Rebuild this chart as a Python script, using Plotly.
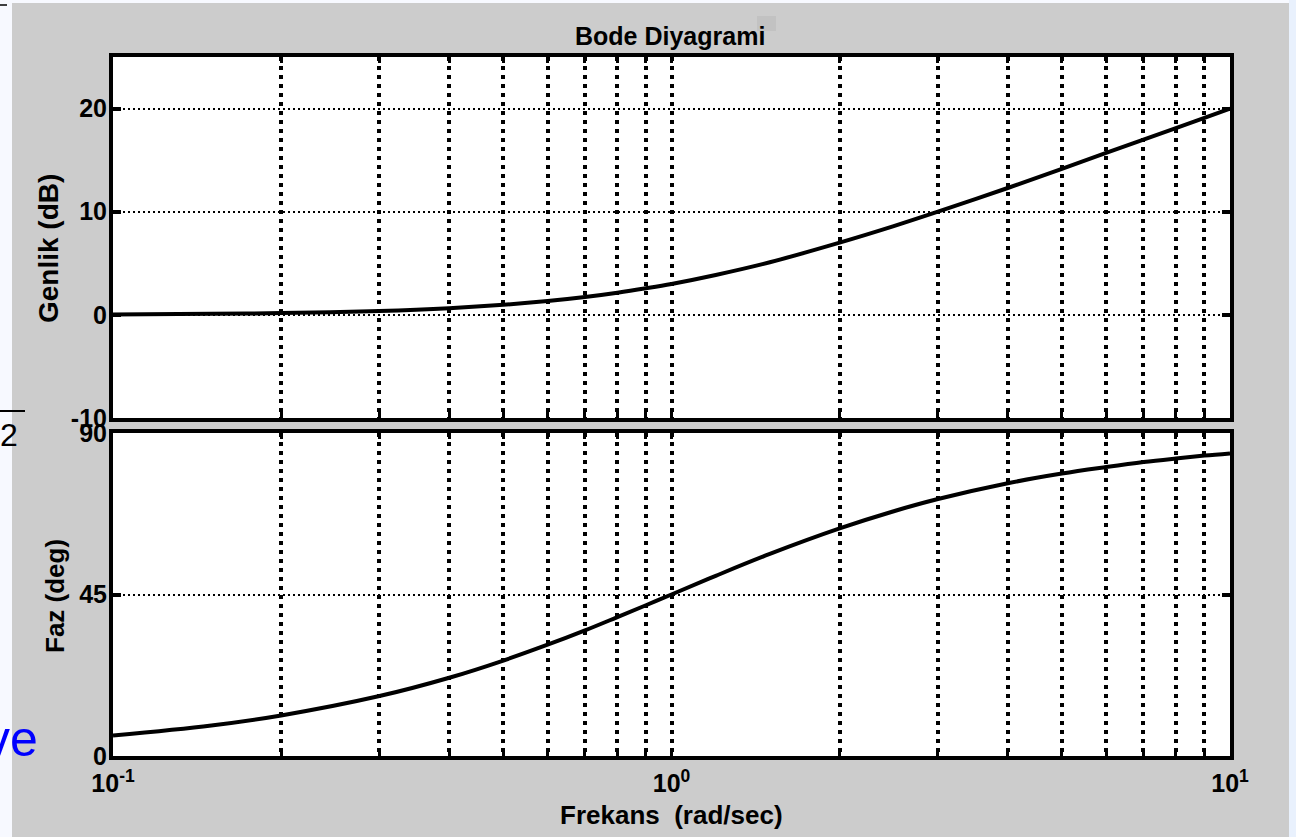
import plotly.graph_objects as go
from plotly.subplots import make_subplots

# ---- data ----
freq = [0.1, 0.15, 0.2, 0.3, 0.4, 0.5, 0.6, 0.7, 0.8, 0.9, 1.0, 1.2, 1.5,
        2.0, 2.5, 3.0, 4.0, 5.0, 6.0, 7.0, 8.0, 9.0, 10.0]
mag_db = [0.04, 0.1, 0.17, 0.37, 0.64, 0.97, 1.34, 1.73, 2.15, 2.58, 3.0, 3.87, 5.1,
          7.0, 8.6, 10.0, 12.3, 14.15, 15.7, 17.0, 18.1, 19.1, 20.0]
phase_deg = [5.7, 8.5, 11.3, 16.7, 21.8, 26.6, 31.0, 35.0, 38.7, 42.0, 45.0, 50.2, 56.3,
             63.4, 68.2, 71.6, 76.0, 78.7, 80.5, 81.9, 82.9, 83.7, 84.3]

grid_freqs = [0.1, 0.2, 0.3, 0.4, 0.5, 0.6, 0.7, 0.8, 0.9,
              1, 2, 3, 4, 5, 6, 7, 8, 9, 10]
grid_text = ["10<sup>-1</sup>", "", "", "", "", "", "", "", "",
             "10<sup>0</sup>", "", "", "", "", "", "", "", "", "10<sup>1</sup>"]
mag_ticks = [-10, 0, 10, 20]
mag_tick_text = ["-10", "0", "10", "20"]
phase_ticks = [0, 45, 90]
phase_tick_text = ["0", "45", "90"]

title_text = "Bode Diyagrami"
mag_label = "Genlik (dB)"
phase_label = "Faz (deg)"
x_label = "Frekans  (rad/sec)"

W, H = 1296, 837
FONT = "Liberation Sans, Arial, sans-serif"


def px(x):
    return x / W


def py(y):
    return 1 - y / H


fig = make_subplots(rows=2, cols=1, shared_xaxes=False)

fig.add_trace(go.Scatter(x=freq, y=mag_db, mode="lines", line=dict(color="black", width=4, shape="spline"),
                         showlegend=False, hoverinfo="skip"), row=1, col=1)
fig.add_trace(go.Scatter(x=freq, y=phase_deg, mode="lines", line=dict(color="black", width=4, shape="spline"),
                         showlegend=False, hoverinfo="skip"), row=2, col=1)

xdom = [px(113), px(1230)]
common_x = dict(type="log", range=[-1, 1], domain=xdom, tickvals=grid_freqs, ticktext=grid_text,
                showgrid=True, gridcolor="black", gridwidth=4, griddash="4px,5px",
                showline=True, linecolor="black", linewidth=4, mirror="ticks",
                ticks="inside", ticklen=6, tickwidth=3, tickcolor="black",
                zeroline=False, automargin=False,
                tickfont=dict(family=FONT, size=25, color="black", weight="bold"))
fig.update_xaxes(**common_x)
fig.update_xaxes(showticklabels=False, row=1, col=1)
fig.update_xaxes(ticklabelstandoff=2, row=2, col=1)

common_y = dict(showgrid=True, gridcolor="black", gridwidth=2, griddash="2px,3px",
                showline=True, linecolor="black", linewidth=4, mirror="ticks",
                ticks="inside", ticklen=8, tickwidth=4, tickcolor="black",
                zeroline=False, ticklabelstandoff=-3, automargin=False,
                tickfont=dict(family=FONT, size=25, color="black", weight="bold"))
fig.update_yaxes(**common_y)
fig.update_yaxes(range=[-10, 25], tickvals=mag_ticks, ticktext=mag_tick_text,
                 domain=[py(418), py(57)], row=1, col=1)
fig.update_yaxes(range=[0, 90], tickvals=phase_ticks, ticktext=phase_tick_text,
                 domain=[py(756), py(433)], row=2, col=1)

shapes = [
    # slide gray panel
    dict(type="rect", xref="paper", yref="paper", x0=px(12), x1=px(1289), y0=0, y1=py(3),
         fillcolor="#cccccc", line=dict(width=0), layer="below"),
    # right light-blue strip
    dict(type="rect", xref="paper", yref="paper", x0=px(1289), x1=1, y0=0, y1=1,
         fillcolor="#e9f1fd", line=dict(width=0), layer="below"),
    # white plot boxes
    dict(type="rect", xref="paper", yref="paper", x0=xdom[0], x1=xdom[1], y0=py(418), y1=py(57),
         fillcolor="white", line=dict(width=0), layer="below"),
    dict(type="rect", xref="paper", yref="paper", x0=xdom[0], x1=xdom[1], y0=py(756), y1=py(433),
         fillcolor="white", line=dict(width=0), layer="below"),
    # small smudge near title
    dict(type="rect", xref="paper", yref="paper", x0=px(757), x1=px(776), y0=py(31), y1=py(16),
         fillcolor="#c2c2c2", line=dict(width=0), layer="below"),
    # stray marks from the slide on the left
    dict(type="line", xref="paper", yref="paper", x0=0, x1=px(7), y0=py(5), y1=py(5),
         line=dict(color="black", width=1.5)),
    dict(type="line", xref="paper", yref="paper", x0=0, x1=px(25), y0=py(411), y1=py(411),
         line=dict(color="black", width=2)),
]
fig.update_layout(shapes=shapes)

annotations = [
    dict(text=title_text, x=px(670), y=py(36), xref="paper", yref="paper", showarrow=False,
         xanchor="center", yanchor="middle",
         font=dict(family=FONT, size=25, color="black", weight="bold")),
    dict(text=x_label, x=px(671), y=py(815), xref="paper", yref="paper", showarrow=False,
         xanchor="center", yanchor="middle",
         font=dict(family=FONT, size=26, color="black", weight="bold")),
    dict(text=mag_label, x=px(48), y=py(249), xref="paper", yref="paper", showarrow=False,
         textangle=-90, xanchor="center", yanchor="middle",
         font=dict(family=FONT, size=28, color="black", weight="bold")),
    dict(text=phase_label, x=px(55), y=py(596), xref="paper", yref="paper", showarrow=False,
         textangle=-90, xanchor="center", yanchor="middle",
         font=dict(family=FONT, size=26, color="black", weight="bold")),
    dict(text="2", x=px(-2), y=py(435), xref="paper", yref="paper", showarrow=False,
         xanchor="left", yanchor="middle",
         font=dict(family=FONT, size=32, color="black")),
    dict(text="ve", x=px(40), y=py(739), xref="paper", yref="paper", showarrow=False,
         xanchor="right", yanchor="middle",
         font=dict(family=FONT, size=50, color="#0000ff")),
]
fig.update_layout(annotations=annotations)

fig.update_layout(width=W, height=H, margin=dict(l=0, r=0, t=0, b=0, pad=0, autoexpand=False),
                  paper_bgcolor="#f7f9ff", plot_bgcolor="rgba(0,0,0,0)",
                  showlegend=False)

fig.write_html("out.html")
